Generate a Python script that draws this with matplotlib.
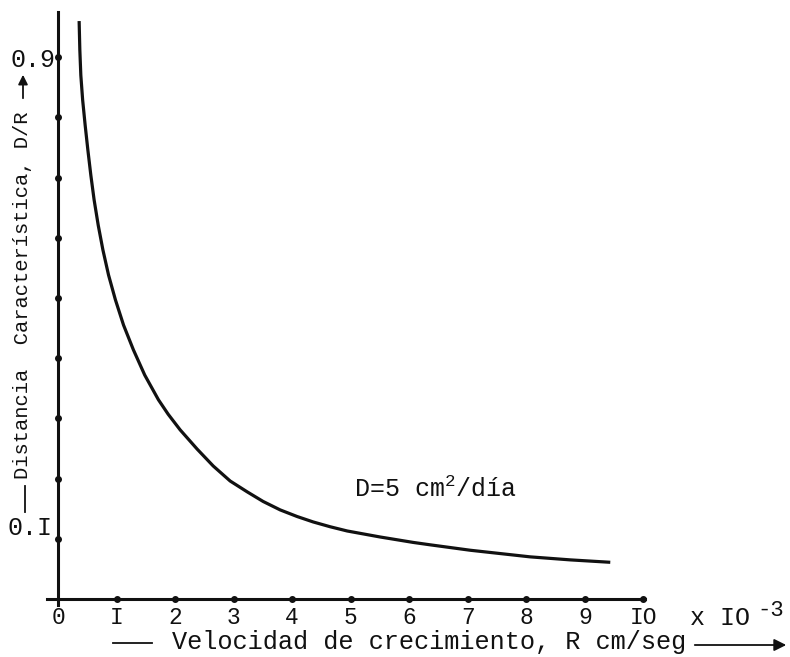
import matplotlib
matplotlib.use("Agg")
import matplotlib.pyplot as plt
from matplotlib.lines import Line2D

plt.rcParams['font.family'] = ['Liberation Mono', 'DejaVu Sans Mono']
plt.rcParams['mathtext.fontset'] = 'custom'
plt.rcParams['mathtext.rm'] = 'Liberation Mono'
plt.rcParams['mathtext.it'] = 'Liberation Mono'
plt.rcParams['mathtext.default'] = 'regular'

# Data (R in units of 1e-3 cm/s, D/R)
R_vals = [0.359, 0.371, 0.388, 0.419, 0.462, 0.508, 0.559, 0.615, 0.685,
          0.765, 0.862, 0.979, 1.118, 1.286, 1.480, 1.714, 1.880, 2.085,
          2.376, 2.650, 2.940, 3.231, 3.504, 3.795, 4.085, 4.359, 4.650,
          4.940, 5.504, 6.068, 6.359, 7.043, 8.068, 8.752, 9.436]
DR_vals = [0.960, 0.912, 0.870, 0.829, 0.787, 0.746, 0.704, 0.663, 0.621,
           0.580, 0.538, 0.497, 0.455, 0.414, 0.372, 0.331, 0.307, 0.281,
           0.249, 0.221, 0.196, 0.178, 0.162, 0.148, 0.137, 0.128, 0.120,
           0.113, 0.103, 0.094, 0.090, 0.081, 0.070, 0.065, 0.061]

x_ticks = [0, 1, 2, 3, 4, 5, 6, 7, 8, 9, 10]
x_tick_labels = ['0', 'I', '2', '3', '4', '5', '6', '7', '8', '9', 'IO']
y_ticks = [0.1, 0.2, 0.3, 0.4, 0.5, 0.6, 0.7, 0.8, 0.9]
y_tick_labels = ['', '', '', '', '', '', '', '', '0.9']

ink = '#111111'
H = 657.0
W = 790.0

fig = plt.figure(figsize=(7.9, 6.57), dpi=100)
ax = fig.add_axes([0.0595, 0.0791, 0.757, 0.9026])
ax.set_xlim(-0.19, 10.03)
ax.set_ylim(-0.01, 0.975)

for s in ['top', 'right']:
    ax.spines[s].set_visible(False)
ax.spines['left'].set_position(('data', 0))
ax.spines['bottom'].set_position(('data', 0))
for s in ['left', 'bottom']:
    ax.spines[s].set_linewidth(2.2)
    ax.spines[s].set_color(ink)

ax.plot(R_vals, DR_vals, color=ink, lw=2.3, solid_capstyle='butt',
        solid_joinstyle='round')

# tick dots
ax.plot(x_ticks[1:], [0] * (len(x_ticks) - 1), 'o', color=ink, ms=4, clip_on=False)
ax.plot([0] * len(y_ticks), y_ticks, 'o', color=ink, ms=4, clip_on=False)

ax.set_xticks(x_ticks)
ax.set_xticklabels(x_tick_labels, fontsize=16.5, color=ink)
ax.set_yticks(y_ticks)
ax.set_yticklabels(y_tick_labels, fontsize=18, color=ink)
ax.tick_params(axis='x', length=0, pad=5)
ax.tick_params(axis='y', length=0, pad=2)

# lower y label, drawn slightly above its tick as in the reference
ax.text(-0.09, 0.118, '0.I', fontsize=18, color=ink, ha='right', va='center')

ax.text(5.05, 0.17, 'D=5 cm$^{2}$/día', fontsize=18, color=ink,
        ha='left', va='baseline')

# x-axis multiplier
fig.text(690 / W, 1 - 625 / H, 'x IO', fontsize=18, color=ink,
         ha='left', va='baseline')
fig.text(757 / W, 1 - 616 / H, '-3', fontsize=16, color=ink,
         ha='left', va='baseline')

# x label with leading dash and trailing arrow
fig.add_artist(Line2D([113 / W, 152 / W], [1 - 643 / H, 1 - 643 / H],
                      color=ink, lw=1.3, transform=fig.transFigure))
fig.text(172 / W, 1 - 649 / H, 'Velocidad de crecimiento, R cm/seg',
         fontsize=18.2, color=ink, ha='left', va='baseline')
ax.annotate('', xy=(789, H - 645), xytext=(692, H - 645),
            xycoords='figure pixels', textcoords='figure pixels',
            arrowprops=dict(arrowstyle='-|>', color=ink, lw=1.3,
                            mutation_scale=18))

# y label with leading dash and trailing arrow
fig.text(23 / W, 1 - 295 / H, 'Distancia  Característica, D/R',
         fontsize=14.8, color=ink, rotation=90, ha='center', va='center')
fig.add_artist(Line2D([25 / W, 25 / W], [1 - 512 / H, 1 - 486 / H],
                      color=ink, lw=1.3, transform=fig.transFigure))
ax.annotate('', xy=(23, H - 72), xytext=(23, H - 101),
            xycoords='figure pixels', textcoords='figure pixels',
            arrowprops=dict(arrowstyle='-|>', color=ink, lw=1.3,
                            mutation_scale=14))

fig.savefig('out.png', dpi=100, facecolor='white')
